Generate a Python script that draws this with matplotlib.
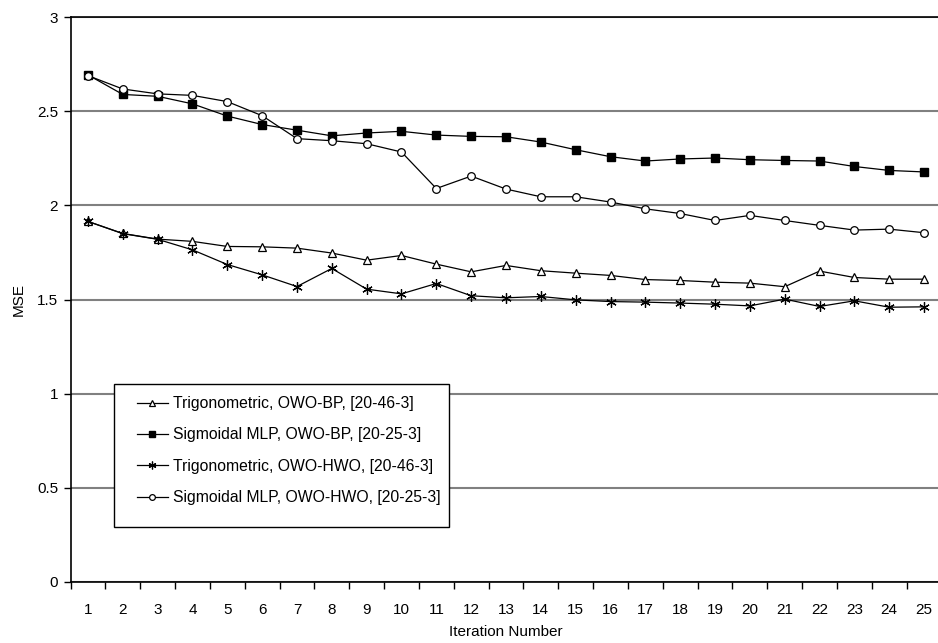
import matplotlib
matplotlib.use("Agg")
import matplotlib.pyplot as plt
from matplotlib.patches import Rectangle
import numpy as np

plt.rcParams['font.family'] = ['Liberation Sans', 'DejaVu Sans']

iterations = list(range(1, 26))

trig_owo_bp = [1.915, 1.851, 1.821, 1.809, 1.782, 1.780, 1.773, 1.747, 1.709, 1.734,
               1.688, 1.647, 1.681, 1.653, 1.640, 1.628, 1.606, 1.601, 1.592, 1.587,
               1.568, 1.651, 1.617, 1.608, 1.608]
sig_owo_bp = [2.694, 2.590, 2.580, 2.540, 2.475, 2.430, 2.400, 2.370, 2.385, 2.394,
              2.374, 2.367, 2.365, 2.337, 2.296, 2.259, 2.236, 2.247, 2.252, 2.243,
              2.239, 2.236, 2.207, 2.186, 2.178]
trig_owo_hwo = [1.915, 1.850, 1.820, 1.764, 1.686, 1.631, 1.569, 1.665, 1.555, 1.530,
                1.585, 1.520, 1.509, 1.516, 1.498, 1.489, 1.486, 1.481, 1.475, 1.466,
                1.502, 1.463, 1.493, 1.459, 1.461]
sig_owo_hwo = [2.690, 2.619, 2.593, 2.585, 2.552, 2.477, 2.355, 2.344, 2.328, 2.284,
               2.090, 2.156, 2.087, 2.046, 2.046, 2.018, 1.982, 1.957, 1.920, 1.947,
               1.920, 1.894, 1.869, 1.874, 1.855]

labels = ["Trigonometric, OWO-BP, [20-46-3]",
          "Sigmoidal MLP, OWO-BP, [20-25-3]",
          "Trigonometric, OWO-HWO, [20-46-3]",
          "Sigmoidal MLP, OWO-HWO, [20-25-3]"]

W, H = 938, 643
fig = plt.figure(figsize=(W / 100, H / 100), dpi=100)
ax_l, ax_b, ax_w, ax_h = 70.5, 581.7, 871.0, 564.4   # pixel geometry of plot area
ax = fig.add_axes([ax_l / W, 1 - ax_b / H, ax_w / W, ax_h / H])


def to_axes(px, py):
    return (px - ax_l) / ax_w, (ax_b - py) / ax_h


ax.yaxis.grid(True, color='#808080', linewidth=1.5)
ax.set_axisbelow(True)

lw = 0.9
ax.plot(iterations, trig_owo_bp, color='black', linewidth=lw, marker='^',
        markersize=6, markerfacecolor='white', markeredgecolor='black',
        markeredgewidth=0.9, label=labels[0])
ax.plot(iterations, sig_owo_bp, color='black', linewidth=lw, marker='s',
        markersize=5.5, markerfacecolor='black', markeredgecolor='black',
        label=labels[1])
ax.plot(iterations, trig_owo_hwo, color='black', linewidth=lw, marker=(6, 2, 0),
        markersize=7.5, markeredgecolor='black', markeredgewidth=0.9,
        label=labels[2])
ax.plot(iterations, sig_owo_hwo, color='black', linewidth=lw, marker='o',
        markersize=5.5, markerfacecolor='white', markeredgecolor='black',
        markeredgewidth=0.9, label=labels[3])

ax.set_xlim(0.5, 25.5)
ax.set_ylim(0, 3)
ax.set_xticks(iterations)
ax.set_xticklabels([str(i) for i in iterations], fontsize=11)
ax.set_xticks(np.arange(0.5, 26, 1), minor=True)
ax.tick_params(axis='x', which='major', length=0, pad=15)
ax.tick_params(axis='x', which='minor', length=5, width=1, direction='out')
ax.set_yticks(np.arange(0, 3.01, 0.5))
ax.set_yticklabels(['0', '0.5', '1', '1.5', '2', '2.5', '3'], fontsize=11)
ax.tick_params(axis='y', length=5, width=1, direction='out', pad=4)

for side in ['left', 'bottom', 'top']:
    ax.spines[side].set_color('black')
    ax.spines[side].set_linewidth(1.2)
ax.spines['right'].set_visible(False)

ax.set_xlabel('Iteration Number', fontsize=11, labelpad=6)
ax.set_ylabel('MSE', fontsize=11, labelpad=8)

# legend box frame
x0, y0 = to_axes(114, 527)
x1, y1 = to_axes(449, 384)
ax.add_patch(Rectangle((x0, y0), x1 - x0, y1 - y0, transform=ax.transAxes,
                       facecolor='white', edgecolor='black', linewidth=1.0,
                       zorder=4, clip_on=False))

leg = ax.legend(loc='upper left', bbox_to_anchor=to_axes(137, 396),
                borderaxespad=0, borderpad=0, fontsize=11.3, frameon=False,
                handlelength=1.97, handletextpad=0.32, labelspacing=1.05,
                markerscale=0.75)
leg.set_zorder(5)

fig.savefig('out.png', dpi=100)
